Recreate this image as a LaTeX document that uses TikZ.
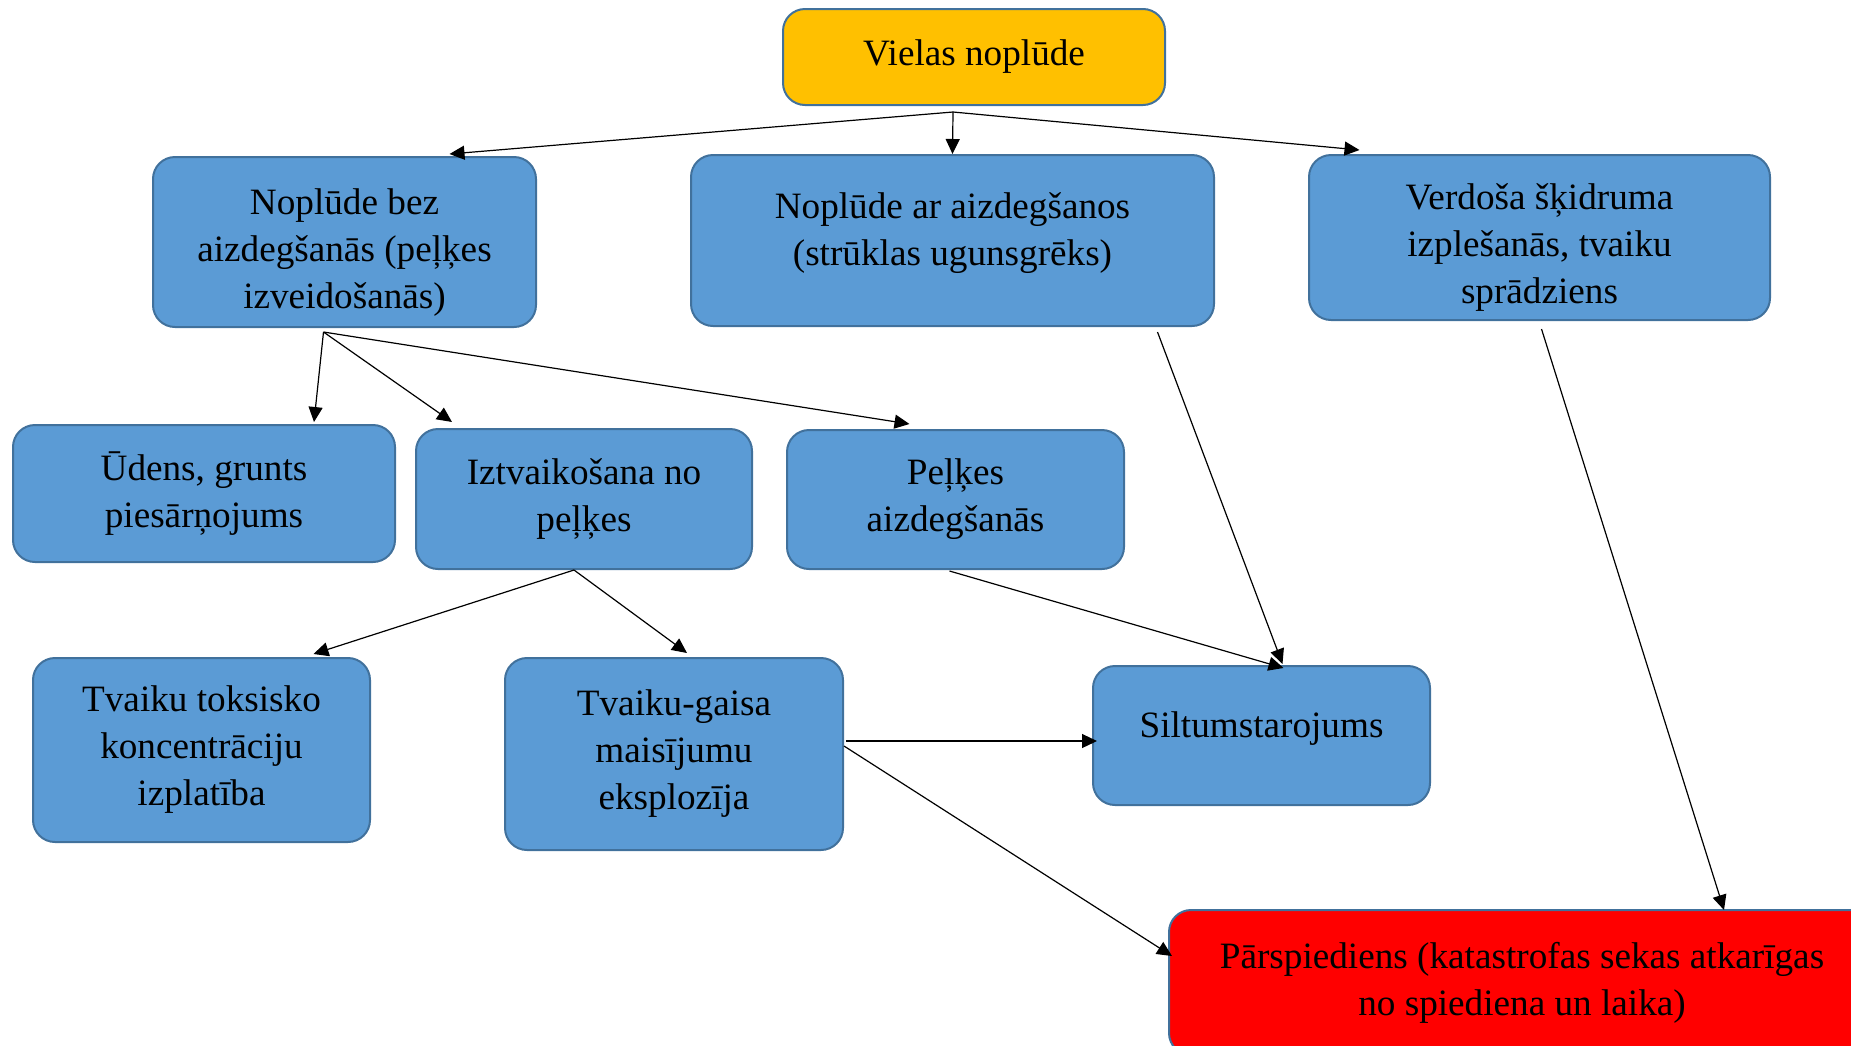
\documentclass[tikz,border=0pt]{standalone}
\usepackage{fontspec}
\setmainfont{Liberation Serif}
\usetikzlibrary{arrows.meta,calc}
\definecolor{boxblue}{HTML}{5B9BD5}
\definecolor{boxedge}{HTML}{41719C}
\definecolor{boxorange}{HTML}{FFC000}
\definecolor{boxred}{HTML}{FF0000}
\tikzset{
  event/.style={
    draw=boxedge, line width=1pt, fill=boxblue,
    rounded corners=11pt, align=center, inner sep=0pt,
    font=\fontsize{18.6}{23.5}\selectfont
  },
  source/.style={event, fill=boxorange},
  worst/.style={event, fill=boxred},
  arr/.style={-{Triangle[length=7.5pt,width=7pt]}, line width=0.6pt}
}
% struts to move text up or down inside a box
\newcommand\downtext{\rule{0pt}{23pt}}
\newcommand\uptext{\rule[-11pt]{0pt}{0pt}}
\begin{document}
\begin{tikzpicture}[x=0.5pt,y=-0.5pt]
	\useasboundingbox (0,0) rectangle (1851,1045);
	% first level
	\node[source, minimum width=191pt, minimum height=48pt] (top) at (974,57) {Vielas noplūde};
	\node[event, minimum width=191.5pt, minimum height=85pt] (bez) at (344.5,242)
	    {\downtext Noplūde bez\\aizdegšanās (peļķes\\izveidošanās)};
	\node[event, minimum width=261.5pt, minimum height=85.5pt] (ar) at (952.5,240.5)
	    {Noplūde ar aizdegšanos\\(strūklas ugunsgrēks)\uptext};
	\node[event, minimum width=230.5pt, minimum height=82.5pt] (verd) at (1539.5,237.5)
	    {\downtext Verdoša šķidruma\\izplešanās, tvaiku\\sprādziens};
	% second level
	\node[event, minimum width=191pt, minimum height=68.5pt] (udens) at (204,493.5)
	    {Ūdens, grunts\\piesārņojums};
	\node[event, minimum width=168pt, minimum height=70pt] (iztv) at (584,499)
	    {Iztvaikošana no\\peļķes};
	\node[event, minimum width=168.5pt, minimum height=69.5pt] (pelk) at (955.5,499.5)
	    {Peļķes\\aizdegšanās};
	% third level
	\node[event, minimum width=168.5pt, minimum height=92pt] (toks) at (201.5,750)
	    {Tvaiku toksisko\\koncentrāciju\\izplatība};
	\node[event, minimum width=169pt, minimum height=96pt] (gaisa) at (674,754)
	    {Tvaiku-gaisa\\maisījumu\\eksplozīja};
	\node[event, minimum width=168.5pt, minimum height=69.5pt] (silt) at (1261.5,735.5)
	    {Siltumstarojums\uptext};
	\node[worst, minimum width=353pt, minimum height=72.5pt] (parsp) at (1522,982.5)
	    {Pārspiediens (katastrofas sekas atkarīgas\\no spiediena un laika)};

	\coordinate (topfan) at ($(top.south)+(-21,6)$);
	\coordinate (bezfan) at ($(bez.south)+(-21,4)$);
	\coordinate (iztvfan) at ($(iztv.south)+(-10,0)$);

	\draw[arr] (topfan) -- ($(bez.north)+(105,-2)$);
	\draw[arr] (topfan) -- (ar.north);
	\draw[arr] (topfan) -- ($(verd.north)+(-180,-4)$);

	\draw[arr] (bezfan) -- ($(udens.north)+(110,-2)$);
	\draw[arr] (bezfan) -- ($(iztv.north)+(-132,-6)$);
	\draw[arr] (bezfan) -- ($(pelk.north)+(-46,-5)$);

	\draw[arr] (iztvfan) -- ($(toks.north)+(112,-3)$);
	\draw[arr] (iztvfan) -- ($(gaisa.north)+(13,-4)$);

	\draw[arr] ($(pelk.south)+(-6,1)$) -- ($(silt.north)+(22,3)$);
	\draw[arr] ($(ar.south)+(205,5)$) -- ($(silt.north)+(21,-1)$);
	\draw[arr] ($(verd.south)+(2,8)$) -- ($(parsp.north)+(202,1)$);
	\draw[arr] ($(gaisa.east)+(2,-13)$) -- ($(silt.west)+(5,5.5)$);
	\draw[arr] ($(gaisa.east)+(0,-8)$) -- ($(parsp.west)+(4,-26.5)$);
\end{tikzpicture}
\end{document}
